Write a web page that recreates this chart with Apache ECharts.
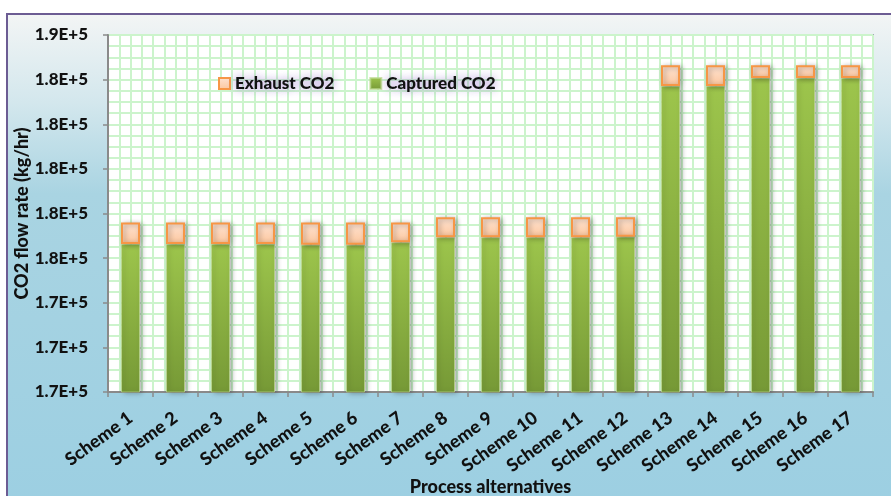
<!DOCTYPE html>
<html>
<head>
<meta charset="utf-8">
<script src="https://cdn.jsdelivr.net/npm/echarts@6/dist/echarts.min.js"></script>
<style>
  html, body { margin: 0; padding: 0; background: #ffffff; }
  #chart { width: 891px; height: 496px; }
</style>
</head>
<body>
<div id="chart"></div>
<script>
// CO2 flow rate per process alternative (kg/hr)
const categories = [
  'Scheme 1', 'Scheme 2', 'Scheme 3', 'Scheme 4', 'Scheme 5', 'Scheme 6',
  'Scheme 7', 'Scheme 8', 'Scheme 9', 'Scheme 10', 'Scheme 11', 'Scheme 12',
  'Scheme 13', 'Scheme 14', 'Scheme 15', 'Scheme 16', 'Scheme 17'
];
const capturedCO2 = [
  176630, 176630, 176630, 176630, 176600, 176600,
  176710, 176930, 176930, 176930, 176930, 176960,
  183710, 183710, 184070, 184070, 184070
];
const exhaustCO2 = [
  970, 970, 970, 970, 1000, 1000,
  890, 900, 900, 900, 900, 870,
  930, 930, 570, 570, 570
];
const yMin = 170000;
const yMax = 186000;
const yStep = 2000;
const yTickLabels = [
  '1.7E+5', '1.7E+5', '1.7E+5', '1.8E+5', '1.8E+5',
  '1.8E+5', '1.8E+5', '1.8E+5', '1.9E+5'
];

const FONT = 'Lato';
const WEIGHT = 900;
const gridColor = '#ccf4cc';
const axisGray = '#8a8a8a';

const chart = echarts.init(document.getElementById('chart'), null, { renderer: 'canvas' });

const option = {
  backgroundColor: '#ffffff',
  animation: false,
  textStyle: { fontFamily: FONT },
  graphic: [{
    type: 'rect',
    z: -100,
    silent: true,
    shape: { x: 7, y: 14, width: 900, height: 500 },
    style: {
      fill: new echarts.graphic.LinearGradient(0, 0, 0, 1, [
        { offset: 0, color: '#f3f5f5' },
        { offset: 0.18, color: '#d3e7ed' },
        { offset: 0.36, color: '#a9d4e2' },
        { offset: 1, color: '#9ccfe2' }
      ]),
      stroke: '#6c5c93',
      lineWidth: 2
    }
  }],
  legend: {
    data: ['Exhaust CO2', 'Captured CO2'],
    left: 213,
    top: 70,
    itemWidth: 11,
    itemHeight: 11,
    itemGap: 35,
    icon: 'rect',
    textStyle: {
      fontFamily: FONT,
      fontWeight: WEIGHT,
      fontSize: 17,
      color: '#111111',
      textShadowColor: 'rgba(140, 100, 200, 0.9)',
      textShadowBlur: 10
    }
  },
  grid: {
    left: 108,
    top: 35,
    right: 18,
    bottom: 104,
    outerBoundsMode: 'none',
    containLabel: false,
    show: true,
    backgroundColor: '#ffffff',
    borderColor: '#75698f',
    borderWidth: 1.5
  },
  xAxis: [{
    type: 'category',
    data: categories,
    name: 'Process alternatives',
    nameLocation: 'middle',
    nameGap: 86,
    nameMoveOverlap: false,
    nameTextStyle: { fontFamily: FONT, fontWeight: WEIGHT, fontSize: 18, color: '#111111' },
    axisLine: { lineStyle: { color: axisGray, width: 2 } },
    axisTick: { show: true, length: 5, lineStyle: { color: axisGray, width: 1.5 } },
    axisLabel: {
      interval: 0,
      rotate: 36,
      margin: 24,
      fontFamily: FONT,
      fontWeight: WEIGHT,
      fontSize: 18,
      color: '#111111'
    },
    splitLine: { show: false }
  }, {
    // fine vertical grid: four lines per category
    type: 'value',
    min: 0,
    max: categories.length * 4,
    interval: 1,
    show: true,
    position: 'top',
    axisLine: { show: false },
    axisTick: { show: false },
    axisLabel: { show: false },
    splitLine: { show: true, lineStyle: { color: gridColor, width: 2 } }
  }],
  yAxis: {
    type: 'value',
    min: yMin,
    max: yMax,
    interval: yStep,
    name: 'CO2 flow rate (kg/hr)',
    nameLocation: 'middle',
    nameRotate: 90,
    nameGap: 77,
    nameMoveOverlap: false,
    nameTextStyle: { fontFamily: FONT, fontWeight: WEIGHT, fontSize: 18, color: '#111111' },
    axisLine: { show: true, lineStyle: { color: axisGray, width: 2 } },
    axisTick: { show: true, length: 5, lineStyle: { color: axisGray, width: 1.5 } },
    axisLabel: {
      margin: 20,
      fontFamily: FONT,
      fontWeight: WEIGHT,
      fontSize: 17,
      color: '#111111',
      formatter: function (v) {
        const i = Math.round((v - yMin) / yStep);
        return yTickLabels[i] !== undefined ? yTickLabels[i] : '';
      }
    },
    splitLine: { show: true, lineStyle: { color: gridColor, width: 2 } },
    minorTick: { show: false, splitNumber: 4 },
    minorSplitLine: { show: true, lineStyle: { color: gridColor, width: 2 } }
  },
  series: [{
    name: 'Captured CO2',
    type: 'bar',
    stack: 'co2',
    xAxisIndex: 0,
    barWidth: 19,
    data: capturedCO2,
    itemStyle: {
      color: new echarts.graphic.LinearGradient(0, 0, 0, 1, [
        { offset: 0, color: '#9dc54c' },
        { offset: 1, color: '#769936' }
      ]),
      borderColor: 'rgba(185, 215, 140, 0.7)',
      borderWidth: 1,
      shadowColor: 'rgba(0, 0, 0, 0.32)',
      shadowBlur: 5,
      shadowOffsetX: 2,
      shadowOffsetY: 1
    }
  }, {
    name: 'Exhaust CO2',
    type: 'bar',
    stack: 'co2',
    xAxisIndex: 0,
    barWidth: 19,
    data: exhaustCO2,
    itemStyle: {
      color: new echarts.graphic.LinearGradient(0, 0, 0, 1, [
        { offset: 0, color: '#fee3d2' },
        { offset: 1, color: '#fcc69d' }
      ]),
      borderColor: '#f79646',
      borderWidth: 2,
      shadowColor: 'rgba(0, 0, 0, 0.32)',
      shadowBlur: 5,
      shadowOffsetX: 2,
      shadowOffsetY: 1
    }
  }]
};

chart.setOption(option);
</script>
</body>
</html>
